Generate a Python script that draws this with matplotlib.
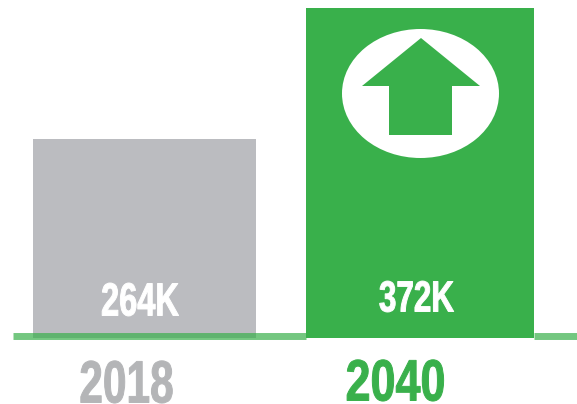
import matplotlib
matplotlib.use('Agg')
import matplotlib.pyplot as plt
from matplotlib.patches import Ellipse, Polygon
from matplotlib.patheffects import AbstractPathEffect
from matplotlib.transforms import Affine2D

years = ['2018', '2040']
values = [264, 372]
value_labels = ['264K', '372K']

GREEN = '#39b04b'
GRAY = '#bbbcc0'
YEAR_GRAY = '#b4b5b7'

W, H = 577, 404


# squeeze a text sideways around its centre and fatten it a bit, the font is too wide otherwise
class Squeeze(AbstractPathEffect):
    def __init__(self, sx, cx, lw=0.7):
        super().__init__()
        self.sx = sx
        self.cx = cx
        self.lw = lw

    def draw_path(self, renderer, gc, tpath, affine, rgbFace=None):
        squeezed = affine + Affine2D().translate(-self.cx, 0).scale(self.sx, 1).translate(self.cx, 0)
        gc0 = renderer.new_gc()
        gc0.copy_properties(gc)
        gc0.set_linewidth(self.lw)
        gc0.set_foreground(rgbFace)
        renderer.draw_path(gc0, tpath, squeezed, rgbFace)
        gc0.restore()


fig = plt.figure(figsize=[W / 100, H / 100], dpi=100)
fig.patch.set_facecolor('white')

# axes runs from the base of the bars to the top of the tall one
ax = fig.add_axes([0, (H - 338) / H, 1, 330 / H])
ax.set_axis_off()
ax.set_xlim(0, W)
ax.set_ylim(100, 372)
ax.bar([144.5, 420], [v - 100 for v in values], bottom=100, width=[223, 228],
       color=[GRAY, GREEN], zorder=2)

# overlay in pixel coords for base line, icon and labels
ov = fig.add_axes([0, 0, 1, 1])
ov.set_axis_off()
ov.patch.set_alpha(0)
ov.set_xlim(0, W)
ov.set_ylim(H, 0)
ov.plot([13, 306], [335.5, 335.5], color=GREEN, alpha=0.7, lw=5, solid_capstyle='butt', zorder=1)
ov.plot([534, 577], [335.5, 335.5], color=GREEN, alpha=0.7, lw=5, solid_capstyle='butt', zorder=1)
ov.add_patch(Ellipse((420.5, 93.5), 157, 129, color='white', lw=0, zorder=5))
ov.add_patch(Polygon([(421, 38), (480, 86), (452, 86), (452, 135), (389, 135), (389, 86), (362, 86)],
                     closed=True, color=GREEN, lw=0, zorder=6))


def label(x, y, s, color, size, sx):
    t = ov.text(x, y, s, color=color, fontsize=size, fontweight='bold', family='Liberation Sans',
                ha='center', va='baseline', zorder=7)
    t.set_path_effects([Squeeze(sx, x)])


label(140, 315.5, value_labels[0], 'white', 33.5, 0.70)
label(416.5, 311.5, value_labels[1], 'white', 31.4, 0.72)
label(126.5, 402.5, years[0], YEAR_GRAY, 43, 0.71)
label(395.5, 400.5, years[1], GREEN, 42, 0.77)

fig.savefig('out.png', dpi=100)
